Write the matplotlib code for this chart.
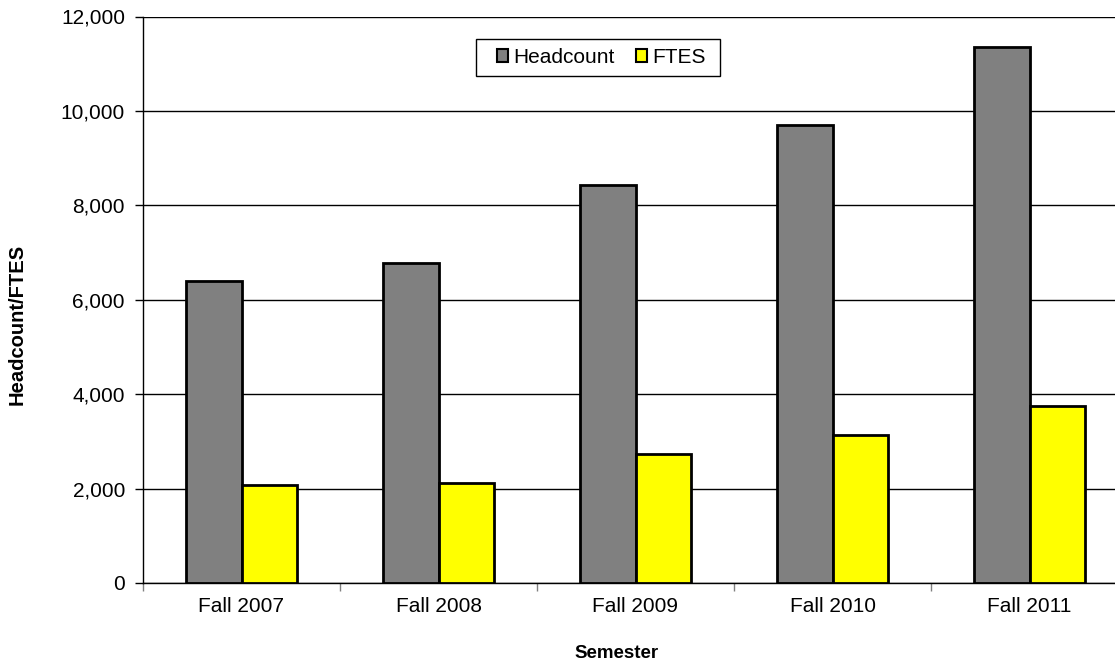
import numpy as np
import matplotlib.pyplot as plt
from matplotlib.patches import Patch, Rectangle
from matplotlib.ticker import FuncFormatter, MultipleLocator

semesters = ['Fall 2007', 'Fall 2008', 'Fall 2009', 'Fall 2010', 'Fall 2011']
headcount = [6388, 6784, 8423, 9710, 11364]
ftes = [2070, 2112, 2735, 3144, 3744]

plt.rcParams['font.family'] = ['Liberation Sans', 'DejaVu Sans']

W, H = 1115, 663
fig = plt.figure(figsize=(W / 100, H / 100), dpi=100)
ax = fig.add_axes([143 / W, 80 / H, 985 / W, 566.5 / H])

x = np.arange(len(semesters))
w = 0.284
ax.bar(x - w / 2, headcount, w, color='#808080', edgecolor='black', linewidth=2, zorder=3)
ax.bar(x + w / 2, ftes, w, color='#ffff00', edgecolor='black', linewidth=2, zorder=3)

ax.set_xlim(-0.5, len(semesters) - 0.5)
ax.set_ylim(0, 12000)
ax.yaxis.set_major_locator(MultipleLocator(2000))
ax.yaxis.set_major_formatter(FuncFormatter(lambda v, p: f'{int(v):,}'))
ax.yaxis.grid(True, color='black', linewidth=1, zorder=0)

ax.set_xticks(x)
ax.set_xticklabels(semesters)
ax.tick_params(axis='x', length=0, pad=10, labelsize=15)
ax.set_xticks(np.arange(len(semesters) + 1) - 0.5, minor=True)
ax.tick_params(axis='x', which='minor', length=6, color='#808080', width=1)
ax.tick_params(axis='y', length=6, width=1, labelsize=15, pad=7)

for side in ['top', 'right']:
    ax.spines[side].set_visible(False)
ax.spines['left'].set_linewidth(1)
ax.spines['bottom'].set_linewidth(1)

# axis titles placed in pixel terms relative to the plot area
ax.set_xlabel('Semester', fontsize=13.5, fontweight='bold', va='center')
ax.xaxis.set_label_coords((617 - 143) / 985, -71 / 566.5)
ax.set_ylabel('Headcount/FTES', fontsize=14.5, fontweight='bold', va='center')
ax.yaxis.set_label_coords(-126 / 985, (583 - 324) / 566.5)

# legend frame drawn separately so the inner padding can be set per side
ax.add_patch(Rectangle((476 / W, 1 - 76 / H), 244 / W, 37 / H, transform=fig.transFigure,
                       facecolor='white', edgecolor='black', linewidth=1, zorder=4,
                       clip_on=False))
handles = [Patch(facecolor='#808080', edgecolor='black', linewidth=1.5, label='Headcount'),
           Patch(facecolor='#ffff00', edgecolor='black', linewidth=1.5, label='FTES')]
leg = ax.legend(handles=handles, loc='center left', bbox_to_anchor=(497 / W, 1 - 57.5 / H),
                bbox_transform=fig.transFigure, ncol=2, fontsize=15, frameon=False,
                handlelength=0.55, handleheight=0.55, handletextpad=0.25,
                columnspacing=1.0, borderpad=0, borderaxespad=0)
leg.set_zorder(5)

fig.savefig('out.png', dpi=100)
